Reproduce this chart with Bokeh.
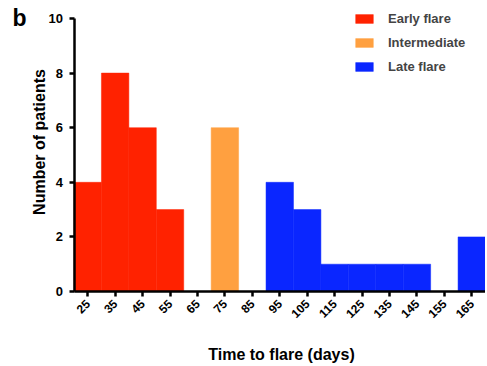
import math
from bokeh.plotting import figure
from bokeh.models import Range1d, FixedTicker, Label, Legend, LegendItem
from bokeh.embed import file_html
from bokeh.resources import INLINE

# Bin centres (days) and counts
early_days = [25, 35, 45, 55]
early_counts = [4, 8, 6, 3]
inter_days = [75]
inter_counts = [6]
late_days = [95, 105, 115, 125, 135, 145, 165]
late_counts = [4, 3, 1, 1, 1, 1, 2]
x_ticks = [25, 35, 45, 55, 65, 75, 85, 95, 105, 115, 125, 135, 145, 155, 165]
y_ticks = [0, 2, 4, 6, 8, 10]
x_lo, x_hi = 20, 170
y_lo, y_hi = 0, 10

RED = "#FF2200"
ORANGE = "#FFA040"
BLUE = "#0A26FF"
FONT = "Liberation Sans"

# canvas geometry (pixels from top-left)
W, H = 485, 364
ax_left = 73.5      # y axis position
ax_bottom = 291.0   # x axis position
ax_top = 18.0       # where y = 10 sits
sx = (W - ax_left) / (x_hi - x_lo)
sy = (ax_bottom - ax_top) / (y_hi - y_lo)


def dx(px):
    return x_lo + (px - ax_left) / sx


def dy(py):
    return y_lo + (ax_bottom - py) / sy


p = figure(width=W, height=H, output_backend="svg", toolbar_location=None,
           x_range=Range1d(dx(0), x_hi), y_range=Range1d(dy(H), dy(0)),
           min_border_left=0, min_border_right=0, min_border_top=0,
           min_border_bottom=0)
p.outline_line_color = None
p.xgrid.visible = False
p.ygrid.visible = False

r1 = p.vbar(x=early_days, top=early_counts, width=10, bottom=0,
            fill_color=RED, line_color=RED, line_width=0.5)
r2 = p.vbar(x=inter_days, top=inter_counts, width=10, bottom=0,
            fill_color=ORANGE, line_color=ORANGE, line_width=0.5)
r3 = p.vbar(x=late_days, top=late_counts, width=10, bottom=0,
            fill_color=BLUE, line_color=BLUE, line_width=0.5)

legend = Legend(items=[LegendItem(label="Early flare", renderers=[r1]),
                       LegendItem(label="Intermediate", renderers=[r2]),
                       LegendItem(label="Late flare", renderers=[r3])],
                location=(353, H - 76))
legend.border_line_color = None
legend.background_fill_alpha = 0
legend.label_text_font = FONT
legend.label_text_font_style = "bold"
legend.label_text_font_size = "13px"
legend.glyph_width = 22
legend.glyph_height = 11
legend.label_height = 20
legend.spacing = 4
legend.label_standoff = 13
legend.margin = 0
legend.padding = 0
p.add_layout(legend)

for ax in (p.xaxis[0], p.yaxis[0]):
    ax.axis_line_width = 2.5
    ax.axis_line_color = "black"
    ax.major_tick_line_width = 2.5
    ax.major_tick_line_color = "black"
    ax.major_tick_out = 5
    ax.major_tick_in = 0
    ax.minor_tick_line_color = None
    ax.major_label_text_font = FONT
    ax.major_label_text_font_style = "bold"
    ax.major_label_text_color = "black"

p.yaxis.fixed_location = x_lo
p.xaxis.fixed_location = y_lo
p.yaxis.bounds = (y_lo, y_hi)
p.xaxis.bounds = (x_lo, x_hi)
p.xaxis.ticker = FixedTicker(ticks=x_ticks)
p.yaxis.ticker = FixedTicker(ticks=y_ticks)
p.xaxis.major_label_orientation = math.pi / 4
p.xaxis.major_label_text_font_size = "12px"
p.yaxis.major_label_text_font_size = "13px"
p.yaxis.major_label_standoff = 6

# axis titles and panel letter
p.add_layout(Label(x=dx(281), y=dy(354), text="Time to flare (days)",
                   text_align="center", text_baseline="middle",
                   text_font=FONT, text_font_style="bold", text_font_size="16px",
                   text_color="black"))
p.add_layout(Label(x=dx(39), y=dy(141.5), text="Number of patients", angle=math.pi / 2,
                   text_align="center", text_baseline="middle",
                   text_font=FONT, text_font_style="bold", text_font_size="16px",
                   text_color="black"))
p.add_layout(Label(x=dx(19), y=dy(17), text="b", text_align="center",
                   text_baseline="middle",
                   text_font=FONT, text_font_style="bold", text_font_size="23px",
                   text_color="black"))

open("out.html", "w").write(file_html(p, INLINE))
